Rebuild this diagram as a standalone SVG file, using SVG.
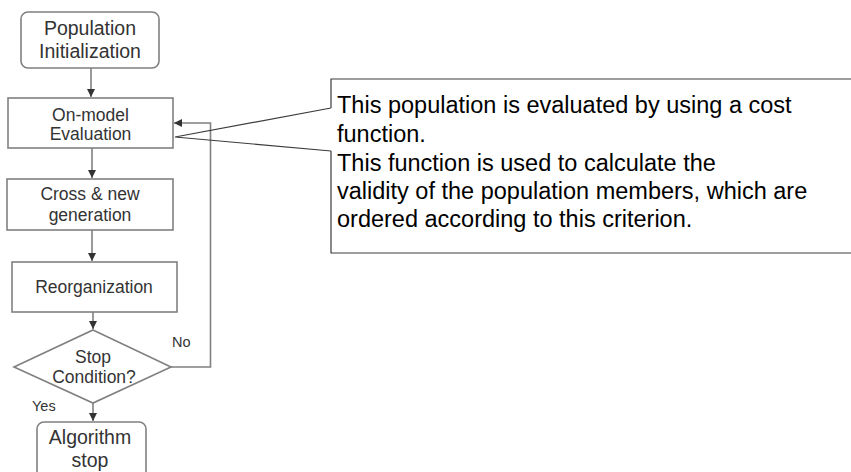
<svg xmlns="http://www.w3.org/2000/svg" width="851" height="472" viewBox="0 0 851 472">
  <style>
    .box { fill: #ffffff; stroke: #808080; stroke-width: 1.6; }
    .lbl { font-family: "Liberation Sans", Arial, sans-serif; fill: #333333; text-anchor: middle; }
    .big { font-size: 19.5px; }
    .mid { font-size: 17.5px; }
    .small { font-family: "Liberation Sans", Arial, sans-serif; fill: #333333; font-size: 14.5px; }
    .flow { fill: none; stroke: #808080; stroke-width: 1.6; }
    .note { fill: none; stroke: #3c3c3c; stroke-width: 1.2; }
    .notetext { font-family: "Liberation Sans", Arial, sans-serif; font-size: 23.5px; fill: #000000; }
  </style>
  <defs>
    <marker id="arrow" viewBox="0 0 8 8" refX="8" refY="4" markerWidth="8" markerHeight="8" markerUnits="userSpaceOnUse" orient="auto">
      <path d="M0,0 L8,4 L0,8 Z" fill="#333333"/>
    </marker>
  </defs>
  <rect width="851" height="472" fill="#ffffff"/>

  <g id="connectors">
    <line class="flow" x1="91" y1="68" x2="91" y2="97" marker-end="url(#arrow)"/>
    <line class="flow" x1="92" y1="148" x2="92" y2="178" marker-end="url(#arrow)"/>
    <line class="flow" x1="92" y1="230" x2="92" y2="261" marker-end="url(#arrow)"/>
    <line class="flow" x1="93" y1="312" x2="93" y2="329" marker-end="url(#arrow)"/>
    <line class="flow" x1="93" y1="403" x2="93" y2="421" marker-end="url(#arrow)"/>
    <polyline class="flow" points="171,367 210.5,367 210.5,123 174,123" marker-end="url(#arrow)"/>
  </g>

  <g id="population-init">
    <rect class="box" x="21" y="12" width="138" height="56" rx="7"/>
    <text class="lbl big" x="90" y="35">Population</text>
    <text class="lbl big" x="90" y="58">Initialization</text>
  </g>

  <g id="evaluation">
    <rect class="box" x="8" y="98" width="165" height="50"/>
    <text class="lbl mid" x="90.5" y="121">On-model</text>
    <text class="lbl mid" x="90.5" y="140">Evaluation</text>
  </g>

  <g id="cross">
    <rect class="box" x="7" y="179" width="166" height="51"/>
    <text class="lbl mid" x="90" y="200">Cross &amp; new</text>
    <text class="lbl mid" x="90" y="221">generation</text>
  </g>

  <g id="reorganization">
    <rect class="box" x="12" y="262" width="165" height="50"/>
    <text class="lbl mid" x="94" y="293">Reorganization</text>
  </g>

  <g id="stop-condition">
    <polygon class="box" points="93,330 171,367 93,403 14,367"/>
    <text class="lbl mid" x="93" y="363">Stop</text>
    <text class="lbl mid" x="94" y="383">Condition?</text>
    <text class="small" x="172" y="347">No</text>
    <text class="small" x="32" y="411">Yes</text>
  </g>

  <g id="algorithm-stop">
    <rect class="box" x="37" y="422" width="109" height="64" rx="7"/>
    <text class="lbl big" x="90" y="444">Algorithm</text>
    <text class="lbl big" x="90" y="467">stop</text>
  </g>

  <g id="note">
    <path class="note" d="M331,108 L331,79 L860,79 L860,253 L331,253 L331,151 M331,108 L175,137 L331,151"/>
    <text class="notetext" x="337" y="113">This population is evaluated by using a cost</text>
    <text class="notetext" x="337" y="142">function.</text>
    <text class="notetext" x="337" y="171">This function is used to calculate the</text>
    <text class="notetext" x="337" y="199">validity of the population members, which are</text>
    <text class="notetext" x="337" y="227">ordered according to this criterion.</text>
  </g>
</svg>
